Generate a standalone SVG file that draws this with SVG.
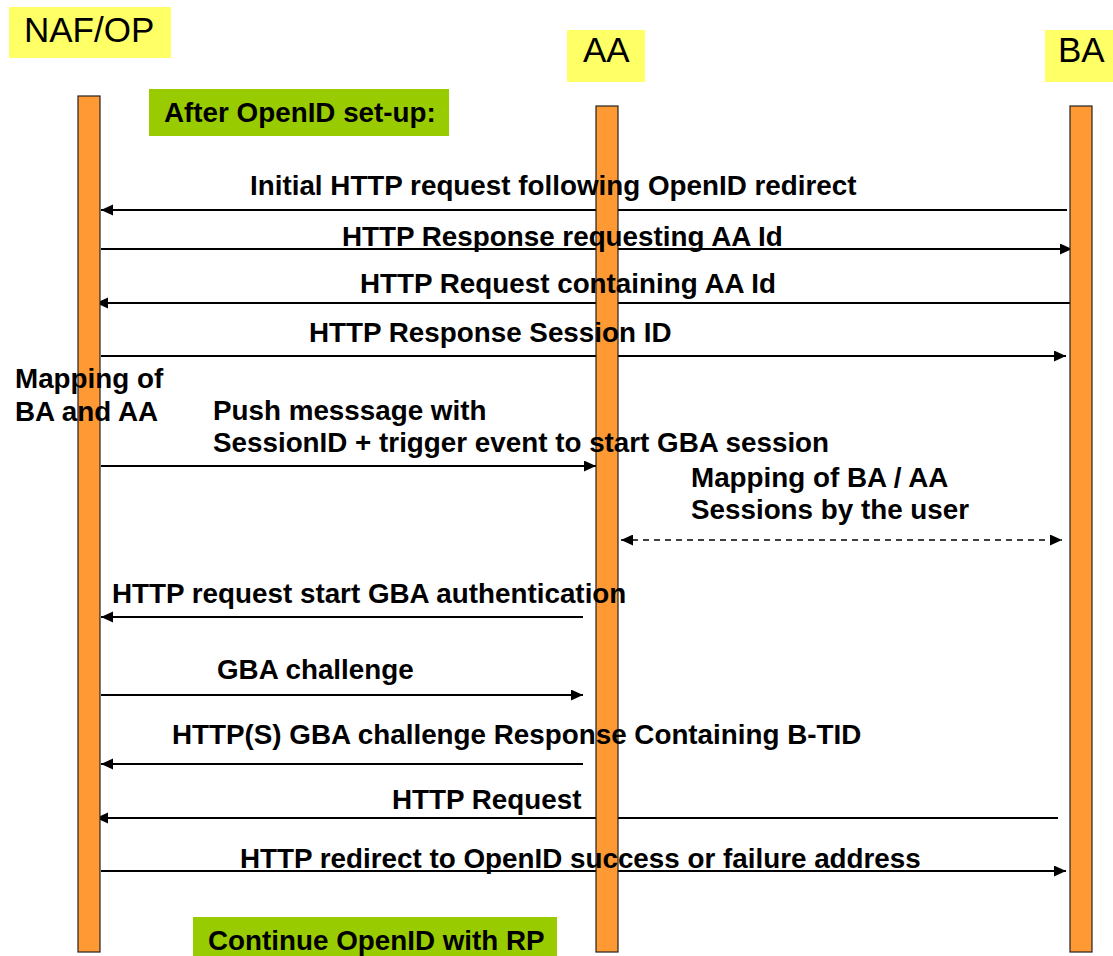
<svg xmlns="http://www.w3.org/2000/svg" width="1113" height="956" viewBox="0 0 1113 956">
<style>
.hdr{fill:#FFFF66}
.hdrt{font-family:"Liberation Sans",Arial,sans-serif;font-size:35px;fill:#000}
.grn{fill:#99CC00}
.lbl{font-family:"Liberation Sans",Arial,sans-serif;font-size:27.8px;font-weight:bold;fill:#000}
.life{fill:#FF9933;stroke:#222;stroke-width:1.2}
.msg{stroke:#000;stroke-width:2;fill:none;marker-end:url(#ah)}
.dash{stroke:#000;stroke-width:1.6;fill:none;stroke-dasharray:6,5;marker-end:url(#ah);marker-start:url(#ahs)}
</style>
<defs>
<marker id="ah" markerUnits="userSpaceOnUse" markerWidth="13" markerHeight="12" refX="12" refY="5.5" orient="auto"><path d="M0,0 L12,5.5 L0,11 z" fill="#000"/></marker>
<marker id="ahs" markerUnits="userSpaceOnUse" markerWidth="13" markerHeight="12" refX="0" refY="5.5" orient="auto"><path d="M12,0 L0,5.5 L12,11 z" fill="#000"/></marker>
</defs>
<rect width="1113" height="956" fill="#fff"/>
<g id="naf-op-header"><rect class="hdr" x="9" y="7" width="162" height="51"/><text class="hdrt" x="24" y="42">NAF/OP</text></g>
<g id="aa-header"><rect class="hdr" x="567" y="30" width="78" height="52"/><text class="hdrt" x="583" y="62">AA</text></g>
<g id="ba-header"><rect class="hdr" x="1045" y="30" width="68" height="52"/><text class="hdrt" x="1058" y="62">BA</text></g>
<g id="after-setup"><rect class="grn" x="149" y="89" width="300" height="47"/><text class="lbl" x="164" y="122">After OpenID set-up:</text></g>
<g id="continue-rp"><rect class="grn" x="193" y="917" width="364" height="39"/><text class="lbl" x="208" y="950">Continue OpenID with RP</text></g>
<g id="connectors">
<line class="msg" x1="1067" y1="210" x2="101" y2="210"/>
<line class="msg" x1="101" y1="249" x2="1072" y2="249"/>
<line class="msg" x1="1076" y1="303" x2="96" y2="303"/>
<line class="msg" x1="101" y1="356" x2="1066" y2="356"/>
<line class="msg" x1="101" y1="466" x2="596" y2="466"/>
<line class="dash" x1="621" y1="540" x2="1062" y2="540"/>
<line class="msg" x1="583" y1="617" x2="101" y2="617"/>
<line class="msg" x1="101" y1="695" x2="583" y2="695"/>
<line class="msg" x1="583" y1="764" x2="101" y2="764"/>
<line class="msg" x1="1058" y1="818" x2="96" y2="818"/>
<line class="msg" x1="101" y1="871" x2="1066" y2="871"/>
</g>
<g id="naf-op-lifeline"><rect class="life" x="78" y="96" width="22" height="856"/></g>
<g id="aa-lifeline"><rect class="life" x="596" y="106" width="22" height="846"/></g>
<g id="ba-lifeline"><rect class="life" x="1070" y="106" width="22" height="846"/></g>
<g id="labels">
<text class="lbl" x="250" y="195">Initial HTTP request following OpenID redirect</text>
<text class="lbl" x="342" y="246">HTTP Response requesting AA Id</text>
<text class="lbl" x="360" y="293">HTTP Request containing AA Id</text>
<text class="lbl" x="309" y="342">HTTP Response Session ID</text>
<text class="lbl" x="15" y="388">Mapping of</text>
<text class="lbl" x="15" y="421">BA and AA</text>
<text class="lbl" x="213" y="420">Push messsage with</text>
<text class="lbl" x="213" y="452">SessionID + trigger event to start GBA session</text>
<text class="lbl" x="691" y="487">Mapping of BA / AA</text>
<text class="lbl" x="691" y="519">Sessions by the user</text>
<text class="lbl" x="112" y="603">HTTP request start GBA authentication</text>
<text class="lbl" x="217" y="679">GBA challenge</text>
<text class="lbl" x="172" y="744">HTTP(S) GBA challenge Response Containing B-TID</text>
<text class="lbl" x="392" y="809">HTTP Request</text>
<text class="lbl" x="240" y="868">HTTP redirect to OpenID success or failure address</text>
</g>
</svg>
